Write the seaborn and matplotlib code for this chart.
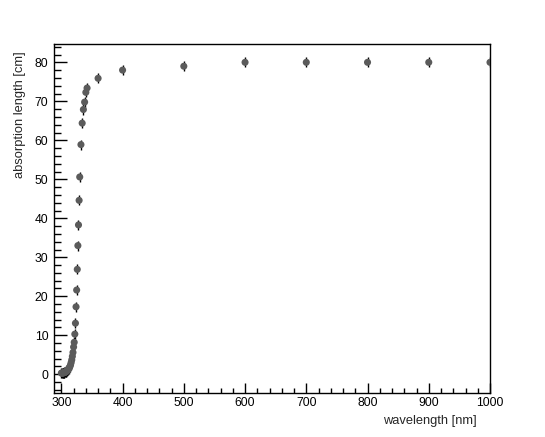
import numpy as np
import pandas as pd
import seaborn as sns
import matplotlib.pyplot as plt
from matplotlib.ticker import MultipleLocator

# values
wavelength = [300, 301, 302, 303, 304, 305, 306, 307, 308, 309,
              310, 311, 312, 313, 314, 315, 316, 317, 318, 319,
              320, 321, 322, 323, 324, 325, 326, 327, 328, 329,
              330, 332, 334, 336, 338, 340, 342, 360, 400, 500,
              600, 700, 800, 900, 1000]
absorption = [0.3, 0.3, 0.3, 0.35, 0.4, 0.45, 0.5, 0.6, 0.7, 0.85,
              1.0, 1.2, 1.4, 1.7, 2.0, 2.4, 3.0, 3.7, 4.6, 5.6,
              7.0, 8.2, 10.3, 13.1, 17.3, 21.6, 26.9, 33.0, 38.3, 44.6,
              50.6, 58.9, 64.4, 67.9, 69.8, 72.3, 73.4, 75.9, 78.0, 79.0,
              80.0, 80.0, 80.0, 80.0, 80.0]
err = 1.3

df = pd.DataFrame({"wavelength": wavelength, "absorption": absorption})

sns.set_theme(style="ticks")
plt.rcParams['font.family'] = ['Liberation Sans', 'DejaVu Sans']

fig = plt.figure(figsize=(5.45, 4.37), dpi=100)
ax = fig.add_axes([54 / 545, 1 - 393 / 437, 436 / 545, 349 / 437])

ax.errorbar(df["wavelength"], df["absorption"], yerr=err, fmt="none",
            ecolor="black", elinewidth=1.0, capsize=0, zorder=2)
sns.scatterplot(data=df, x="wavelength", y="absorption", ax=ax,
                color="#5b5b5b", s=26, edgecolor="none", zorder=3, legend=False)

ax.set_xlim(288, 1000)
ax.set_ylim(-4.8, 84.7)
ax.xaxis.set_major_locator(MultipleLocator(100))
ax.xaxis.set_minor_locator(MultipleLocator(20))
ax.yaxis.set_major_locator(MultipleLocator(10))
ax.yaxis.set_minor_locator(MultipleLocator(2))

ax.tick_params(which="both", direction="in", top=False, right=False,
               labelsize=8.7, width=1.0, colors="black")
ax.tick_params(axis="y", which="major", length=9.5, pad=4)
ax.tick_params(axis="y", which="minor", length=5)
ax.tick_params(axis="x", which="major", length=7.5, pad=3)
ax.tick_params(axis="x", which="minor", length=3.8)

for sp in ax.spines.values():
    sp.set_linewidth(1.0)
    sp.set_color("black")

ax.set_xlabel("wavelength [nm]", fontsize=9.3, ha="right", va="center")
ax.xaxis.set_label_coords(0.97, -0.08)
ax.set_ylabel("absorption length [cm]", fontsize=9.3, ha="right", va="center")
ax.yaxis.set_label_coords(-0.078, 0.98)

fig.savefig("out.png", dpi=100)
